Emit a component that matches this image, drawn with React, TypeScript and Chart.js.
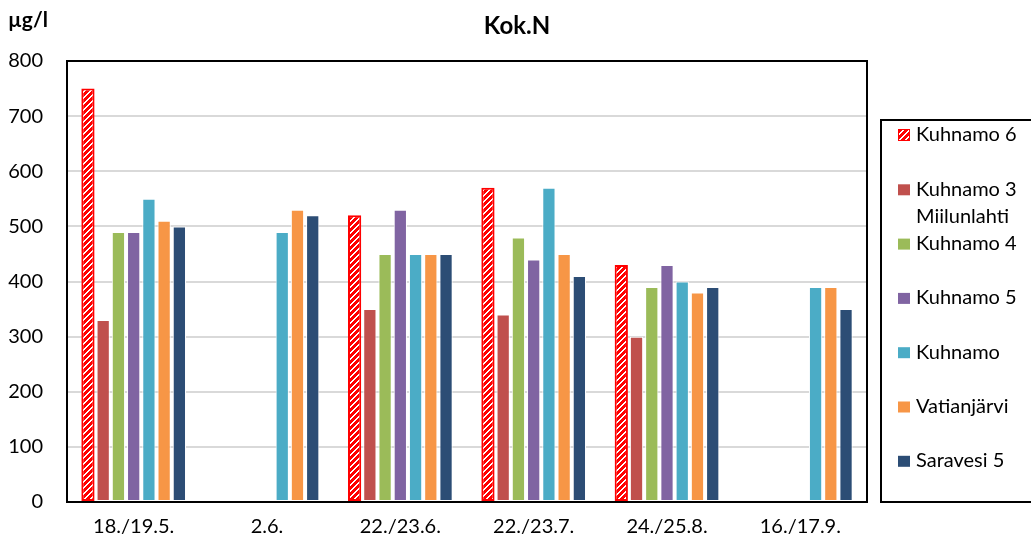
import React, { useEffect, useRef } from "react";
import { Chart, registerables } from "chart.js";

Chart.register(...registerables);

const categories = ["18./19.5.", "2.6.", "22./23.6.", "22./23.7.", "24./25.8.", "16./17.9."];
const kuhnamo6 = [750, null, 520, 570, 430, null];
const kuhnamo3 = [330, null, 350, 340, 300, null];
const kuhnamo4 = [490, null, 450, 480, 390, null];
const kuhnamo5 = [490, null, 530, 440, 430, null];
const kuhnamo = [550, 490, 450, 570, 400, 390];
const vatianjarvi = [510, 530, 450, 450, 380, 390];
const saravesi5 = [500, 520, 450, 410, 390, 350];
const seriesLabels = [
  ["Kuhnamo 6"],
  ["Kuhnamo 3", "Miilunlahti"],
  ["Kuhnamo 4"],
  ["Kuhnamo 5"],
  ["Kuhnamo"],
  ["Vatianjärvi"],
  ["Saravesi 5"],
];
const seriesColors = ["#FF0000", "#C0504D", "#9BBB59", "#8064A2", "#4BACC6", "#F79646", "#2C4D75"];
const yMin = 0;
const yMax = 800;
const yStep = 100;
const titleText = "Kok.N";
const unitText = "µg/l";

const FONT = "Lato, 'Noto Sans', sans-serif";

function makePattern(): CanvasPattern | string {
  const s = 6;
  const c = document.createElement("canvas");
  c.width = s;
  c.height = s;
  const g = c.getContext("2d");
  if (!g) return "#FF0000";
  for (let x = 0; x < s; x++) {
    for (let y = 0; y < s; y++) {
      const k = (x + y) % s;
      g.fillStyle = k === 0 || k === 1 ? "#FFFFFF" : "#FF0000";
      g.fillRect(x, y, 1, 1);
    }
  }
  const p = g.createPattern(c, "repeat");
  return p || "#FF0000";
}

export default function App() {
  const ref = useRef<HTMLCanvasElement | null>(null);

  useEffect(() => {
    const canvas = ref.current;
    if (!canvas) return;
    const pattern = makePattern();
    const values = [kuhnamo6, kuhnamo3, kuhnamo4, kuhnamo5, kuhnamo, vatianjarvi, saravesi5];

    const datasets = values.map((v, i) => ({
      label: seriesLabels[i].join(" "),
      data: v,
      backgroundColor: i === 0 ? pattern : seriesColors[i],
      borderColor: i === 0 ? "#FF0000" : "#FFFFFF",
      borderWidth: i === 0 ? 2 : 1,
      borderSkipped: false,
      categoryPercentage: 0.8,
      barPercentage: 0.87,
    }));

    const decor = {
      id: "decor",
      beforeDraw(chart: any) {
        const ctx = chart.ctx;
        ctx.save();
        ctx.fillStyle = "#FFFFFF";
        ctx.fillRect(0, 0, chart.width, chart.height);
        ctx.restore();
      },
      afterDraw(chart: any) {
        const ctx = chart.ctx;
        const a = chart.chartArea;
        ctx.save();
        // plot border
        ctx.strokeStyle = "#000000";
        ctx.lineWidth = 2;
        ctx.strokeRect(a.left, a.top, a.right - a.left, a.bottom - a.top);
        // title
        ctx.fillStyle = "#000000";
        ctx.textAlign = "center";
        ctx.textBaseline = "middle";
        ctx.font = `bold 24px ${FONT}`;
        ctx.fillText(titleText, 517, 26);
        // unit
        ctx.textAlign = "left";
        ctx.font = `bold 21px ${FONT}`;
        ctx.fillText(unitText, 8, 20);
        // legend
        const lx = 881;
        const ly = 120;
        const lb = a.bottom;
        ctx.lineWidth = 2;
        ctx.strokeRect(lx, ly, 200, lb - ly);
        ctx.font = `20px ${FONT}`;
        const step = 54.3;
        seriesLabels.forEach((lines, i) => {
          const cy = ly + 15 + i * step;
          if (i === 0) {
            ctx.fillStyle = pattern as any;
            ctx.fillRect(898, cy - 6, 12, 12);
            ctx.strokeStyle = "#FF0000";
            ctx.lineWidth = 1;
            ctx.strokeRect(898.5, cy - 5.5, 11, 11);
          } else {
            ctx.fillStyle = seriesColors[i];
            ctx.fillRect(898, cy - 5, 12, 11);
          }
          ctx.fillStyle = "#000000";
          lines.forEach((t, j) => {
            ctx.fillText(t, 916, cy + j * 27);
          });
        });
        ctx.restore();
      },
    };

    const chart = new Chart(canvas, {
      type: "bar",
      data: { labels: categories, datasets: datasets as any },
      options: {
        animation: false,
        responsive: false,
        layout: { padding: { top: 61, right: 164, left: 0, bottom: 0 } },
        plugins: {
          legend: { display: false },
          title: { display: false },
          tooltip: { enabled: false },
        },
        scales: {
          x: {
            grid: { display: false, drawTicks: false },
            border: { display: false },
            ticks: { color: "#000000", font: { family: FONT, size: 20 }, padding: 13 },
            afterFit(scale: any) {
              scale.height = 48;
            },
          },
          y: {
            min: yMin,
            max: yMax,
            ticks: { stepSize: yStep, color: "#000000", font: { family: FONT, size: 20 }, padding: 24 },
            grid: { color: "#D9D9D9", lineWidth: 2, drawTicks: false },
            border: { display: false },
            afterFit(scale: any) {
              scale.width = 67;
            },
          },
        },
      },
      plugins: [decor],
    });
    return () => chart.destroy();
  }, []);

  return (
    <div style={{ position: "fixed", left: 0, top: 0, width: 1031, height: 550, background: "#fff" }}>
      <canvas ref={ref} width={1031} height={550} />
    </div>
  );
}
